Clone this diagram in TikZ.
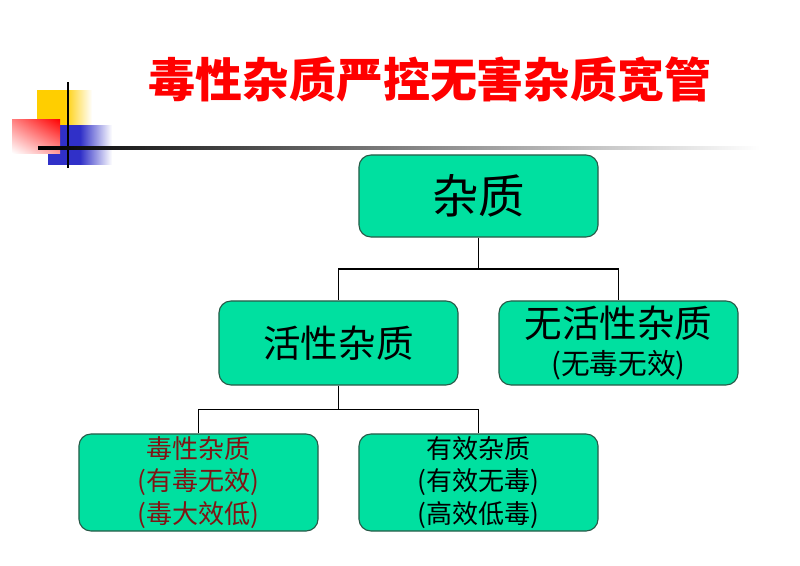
\documentclass[tikz,border=0pt]{standalone}
\usepackage{fontspec}
\setmainfont{Noto Sans CJK SC}
\usepackage{xcolor}
\usetikzlibrary{calc,positioning,shadings}

\definecolor{boxgreen}{RGB}{0,224,160}
\definecolor{boxedge}{RGB}{40,90,72}
\definecolor{darkred}{RGB}{128,20,20}
\definecolor{decoyellow}{RGB}{255,206,0}
\definecolor{decoblue}{RGB}{48,48,200}

\begin{document}
\begin{tikzpicture}[x=0.025cm, y=-0.025cm,
    box/.style={draw=boxedge, line width=0.8pt, fill=boxgreen, rounded corners=0.3cm,
                minimum width=5.975cm, align=center, inner sep=0pt},
    link/.style={line width=1.4pt}]
    		\useasboundingbox (0,0) rectangle (800,565);
    		
    		% Corner decoration
    		\shade[left color=decoyellow, right color=white, middle color=decoyellow] (37,90) rectangle (92,143);
    		\shade[left color=decoblue, right color=white, middle color=decoblue] (48,125) rectangle (112,164);
    		\shade[upper right=red, upper left=red!50, lower right=red!40, lower left=white] (12,119) rectangle (60,153);
    		\draw[line width=1.4pt] (68,82) -- (68,168);
    		\shade[left color=black, right color=white] (38,146.6) rectangle (760,149.2);
    		
    		% Title
    		\node[font=\fontsize{33.4}{36}\selectfont\bfseries, text=red] (title) at (430,80) {毒性杂质严控无害杂质宽管};
    		
    		% Boxes
    		\node[box, minimum height=2.05cm, font=\fontsize{33}{38}\selectfont] (zz) at (478.5,196) {杂质};
    		\node[box, minimum height=2.1cm, font=\fontsize{26.7}{30}\selectfont] (hx) at (338.5,343) {活性杂质};
    		\node[box, minimum height=2.1cm, font=\fontsize{26.7}{30}\selectfont] (wh) at (618.5,343)
    			{无活性杂质\\[-4pt]{\fontsize{20.4}{22}\selectfont (无毒无效)}};
    		\node[box, minimum height=2.425cm, font=\fontsize{18.5}{23}\selectfont, text=darkred] (dx) at (198.5,482.5)
    			{毒性杂质\\(有毒无效)\\(毒大效低)};
    		\node[box, minimum height=2.425cm, font=\fontsize{18.5}{23}\selectfont] (yx) at (478.5,482.5)
    			{有效杂质\\(有效无毒)\\(高效低毒)};
    		
    		% Connectors
    		\path (zz.south) -- coordinate[pos=0.5] (j1) (zz.south |- hx.north);
    		\draw[link] (zz.south) -- (j1) -| (hx.north);
    		\draw[link] (j1) -| (wh.north);
    		\path (hx.south) -- coordinate[pos=0.5] (j2) (hx.south |- dx.north);
    		\draw[link] (hx.south) -- (j2) -| (dx.north);
    		\draw[link] (j2) -| (yx.north);
    	\end{tikzpicture}
\end{document}
